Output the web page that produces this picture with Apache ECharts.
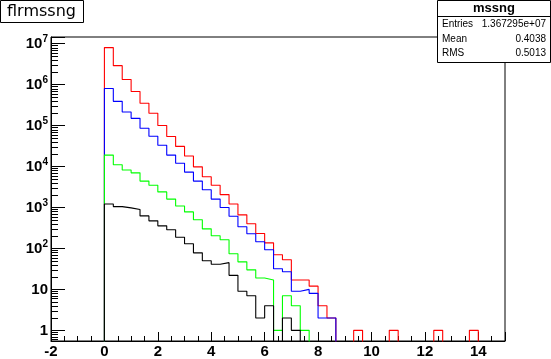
<!DOCTYPE html>
<html><head><meta charset="utf-8">
<script src="https://cdn.jsdelivr.net/npm/echarts@6/dist/echarts.min.js"></script>
<style>html,body{margin:0;padding:0;background:#fff}#c{width:551px;height:359px}</style>
</head><body><div id="c"></div>
<script>
// Histogram: 45 bins of width 1/3 from 0 to 15
const binWidth = 1 / 3;
const nBins = 45;
const redCounts = [8.0e6, 2.9e6, 1.33e6, 6.8e5, 3.5e5, 2.0e5, 1.0e5, 5.4e4, 3.1e4, 1.8e4,
  9.8e3, 5.6e3, 3.5e3, 2.06e3, 1.22e3, 660, 400, 232, 137, 70,
  53, 17, 17, 12, 4, 2, 0, 0, 1, 0,
  0, 0, 1, 0, 0, 0, 0, 1, 0, 0,
  0, 1, 0, 0, 0];
const blueCounts = [8.05e5, 3.9e5, 2.14e5, 1.5e5, 8.6e4, 5.5e4, 3.3e4, 1.9e4, 1.2e4, 7.3e3,
  4.4e3, 2.7e3, 1.6e3, 1.0e3, 610, 337, 228, 146, 93, 32,
  27, 9, 10, 8, 2, 2];
const greenCounts = [1.9e4, 1.1e4, 8.2e3, 7.0e3, 4.4e3, 3.5e3, 2.4e3, 1.6e3, 1.09e3, 780,
  500, 301, 204, 163, 74, 47, 30, 19, 17, 1,
  7, 4, 1];
const blackCounts = [1220, 1050, 977, 888, 623, 471, 356, 285, 188, 130,
  78, 50, 41, 45, 22, 9, 7, 2, 4, 0,
  2, 1];
const xTickLabels = ['-2', '0', '2', '4', '6', '8', '10', '12', '14'];
const yTickBase = ['1', '10', '10', '10', '10', '10', '10', '10'];
const yTickExp = ['', '', '2', '3', '4', '5', '6', '7'];
const statsTitle = 'mssng';
const statsRows = [['Entries', '1.367295e+07'], ['Mean', '0.4038'], ['RMS', '0.5013']];
const histTitle = 'flrmssng';

const xMin = -2, xMax = 15, yMin = 0.55, yMax = 1.45e7;
const FONT = "'Liberation Sans', Arial, sans-serif";

function stepPoints(counts) {
  const base = 0.05; // below axis minimum -> clipped, like empty bins in ROOT
  const c = counts.slice();
  while (c.length < nBins) c.push(0);
  const pts = [[0, base]];
  for (let i = 0; i < nBins; i++) pts.push([i * binWidth, c[i] > 0 ? c[i] : base]);
  pts.push([nBins * binWidth, c[nBins - 1] > 0 ? c[nBins - 1] : base]);
  return pts;
}
function histSeries(counts, color) {
  return {
    type: 'line', data: stepPoints(counts), step: 'end', symbol: 'none', clip: true,
    lineStyle: { color: color, width: 1.1 }, silent: true, animation: false
  };
}
const minorVals = [];
for (let e = -1; e <= 7; e++) for (let m = 2; m <= 9; m++) {
  const v = m * Math.pow(10, e);
  if (v > yMin && v < yMax) minorVals.push([1, v]);
}

const chart = echarts.init(document.getElementById('c'), null, { renderer: 'canvas' });
chart.setOption({
  animation: false,
  backgroundColor: '#fff',
  grid: { left: 51, top: 37, width: 454, height: 306, show: true, borderColor: '#000', borderWidth: 1, backgroundColor: 'transparent' },
  xAxis: {
    type: 'value', min: xMin, max: xMax, interval: 2,
    axisLine: { onZero: false, lineStyle: { color: '#000', width: 1 } },
    axisTick: { inside: true, length: 9, lineStyle: { color: '#000' } },
    minorTick: { show: true, splitNumber: 4, length: 5, lineStyle: { color: '#000' } },
    splitLine: { show: false },
    axisLabel: {
      margin: 3, color: '#000', fontFamily: FONT, fontWeight: 'bold', fontSize: 15,
      formatter: function (v) {
        const idx = Math.round((v - xMin) / 2);
        return (Math.abs(v - (xMin + idx * 2)) < 1e-9 && idx < xTickLabels.length) ? xTickLabels[idx] : '';
      }
    }
  },
  yAxis: {
    type: 'log', logBase: 10, min: yMin, max: yMax,
    axisLine: { onZero: false, lineStyle: { color: '#000', width: 1 } },
    axisTick: { inside: true, length: 14, lineStyle: { color: '#000' } },
    splitLine: { show: false },
    axisLabel: {
      margin: 3, color: '#000', fontFamily: FONT, fontWeight: 'bold', fontSize: 15,
      formatter: function (v) {
        const lg = Math.log10(v), n = Math.round(lg);
        if (Math.abs(lg - n) > 1e-6 || n < 0 || n >= yTickBase.length) return '';
        return '{b|' + yTickBase[n] + '}' + (yTickExp[n] ? '{s|' + yTickExp[n] + '}' : '');
      },
      rich: {
        b: { fontFamily: FONT, fontWeight: 'bold', fontSize: 15, color: '#000' },
        s: { fontFamily: FONT, fontWeight: 'bold', fontSize: 10, color: '#000', verticalAlign: 'top', padding: [0, 0, 8, 0] }
      }
    }
  },
  series: [
    histSeries(redCounts, '#ff0000'),
    histSeries(blueCounts, '#0000ff'),
    histSeries(greenCounts, '#00ff00'),
    histSeries(blackCounts, '#000000'),
    {
      type: 'custom', data: minorVals, silent: true, clip: false, z: 3,
      renderItem: function (params, api) {
        const p = api.coord([api.value(0), api.value(1)]);
        const x0 = params.coordSys.x;
        const y = Math.round(p[1]) + 0.5;
        return { type: 'line', shape: { x1: x0, y1: y, x2: x0 + 7, y2: y }, style: { stroke: '#000', lineWidth: 1 } };
      }
    }
  ],
  graphic: [
    { type: 'rect', shape: { x: 0.5, y: 0.5, width: 83, height: 22 }, style: { fill: '#fff', stroke: '#000', lineWidth: 1 }, z: 10 },
    { type: 'text', x: 7, y: 12, style: { text: histTitle, font: "16px 'DejaVu Sans', sans-serif", fill: '#000', verticalAlign: 'middle' }, z: 11 },
    { type: 'rect', shape: { x: 437.5, y: 0.5, width: 113, height: 62 }, style: { fill: '#fff', stroke: '#000', lineWidth: 1 }, z: 10 },
    { type: 'line', shape: { x1: 437.5, y1: 16.5, x2: 551, y2: 16.5 }, style: { stroke: '#000', lineWidth: 1 }, z: 11 },
    { type: 'text', x: 494, y: 8.5, style: { text: statsTitle, font: "bold 13px " + FONT, fill: '#000', align: 'center', verticalAlign: 'middle' }, z: 11 },
  ].concat(statsRows.flatMap(function (r, i) {
    const yy = [24, 39.5, 53.5][i];
    return [
      { type: 'text', x: 442, y: yy, style: { text: r[0], font: "10px " + FONT, fill: '#000', verticalAlign: 'middle' }, z: 11 },
      { type: 'text', x: 546, y: yy, style: { text: r[1], font: "10px " + FONT, fill: '#000', align: 'right', verticalAlign: 'middle' }, z: 11 }
    ];
  }))
});
</script>
</body></html>
